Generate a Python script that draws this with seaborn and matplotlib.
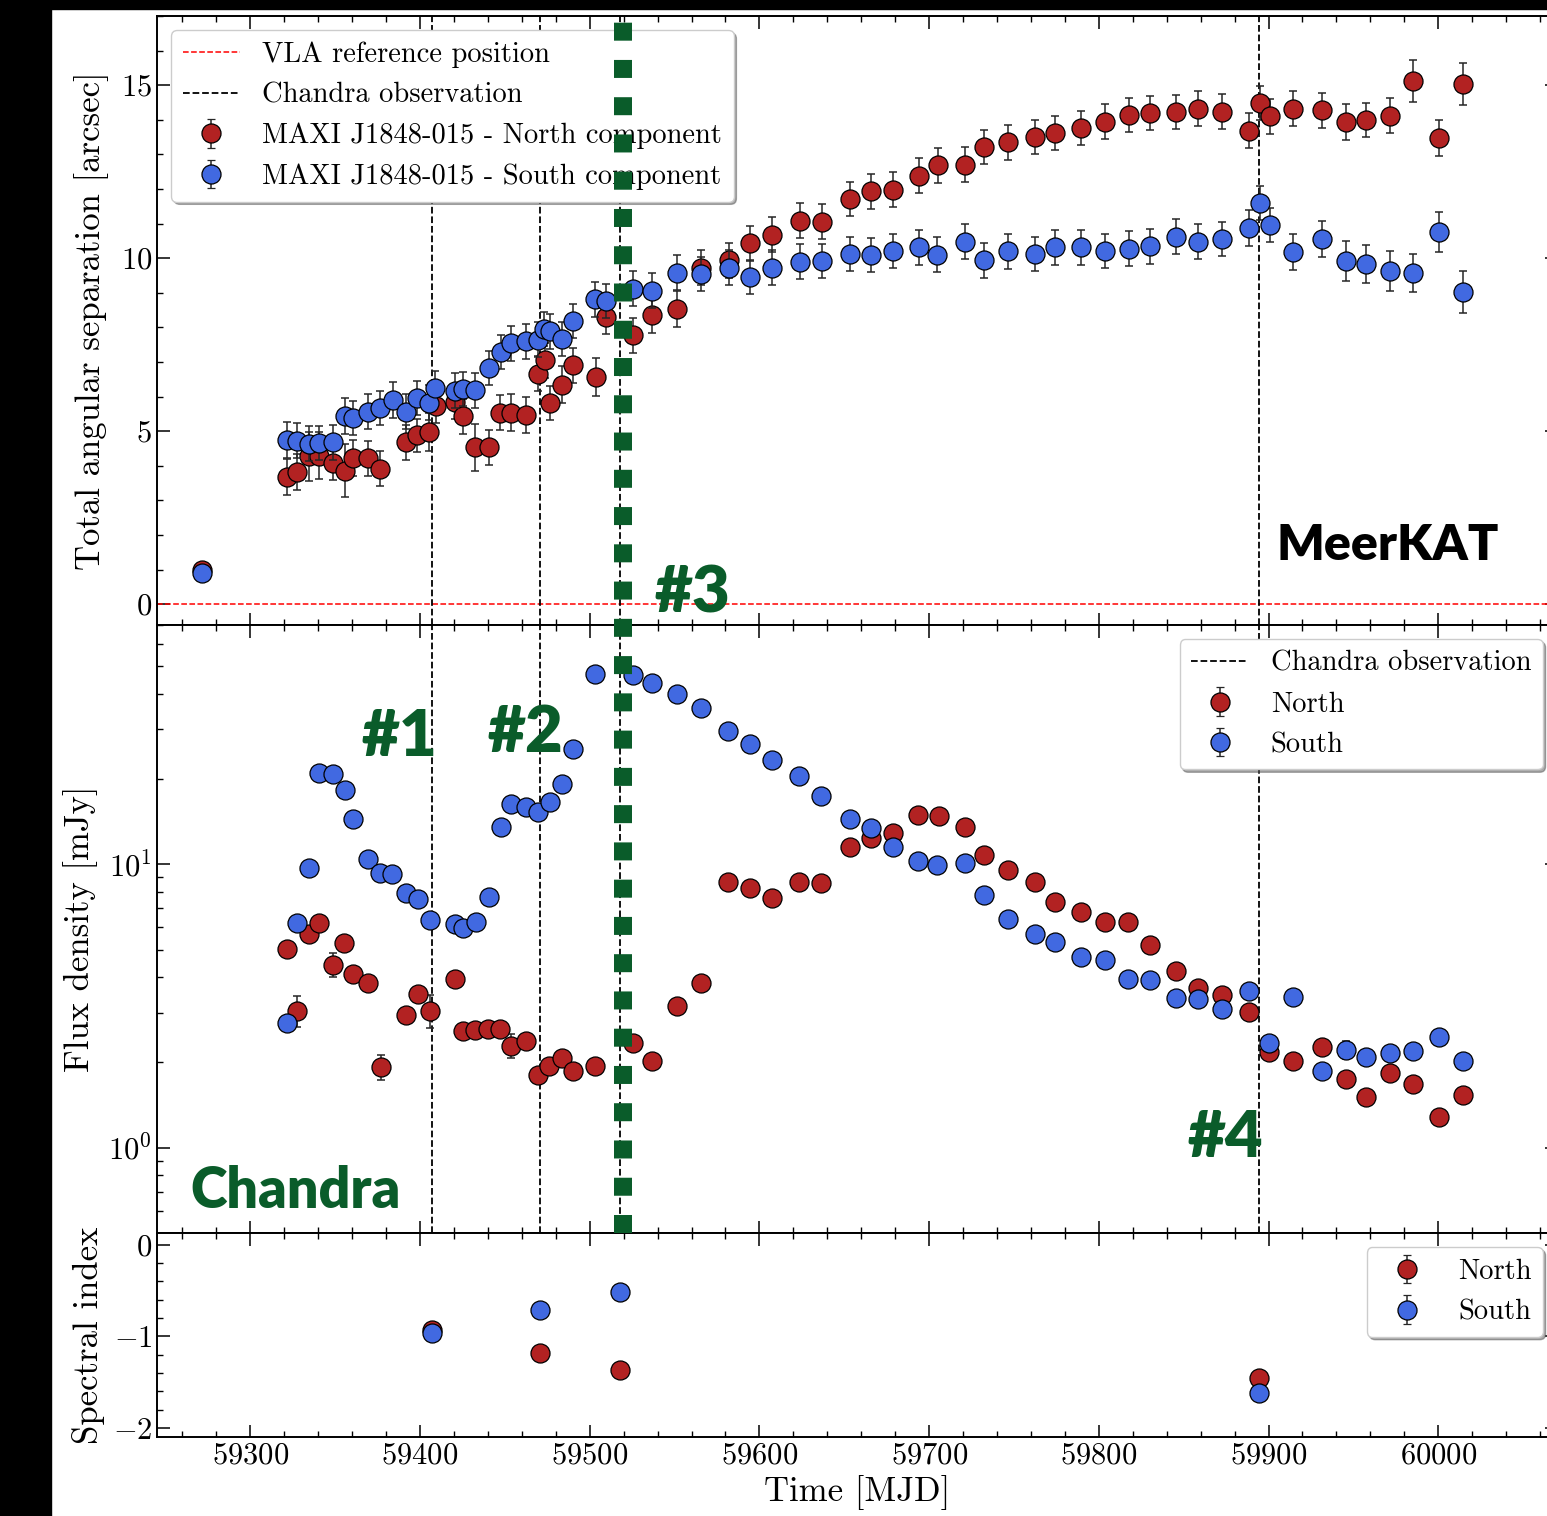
import numpy as np
import matplotlib
matplotlib.use("Agg")
import matplotlib.pyplot as plt
import matplotlib.transforms as mtransforms
from matplotlib.lines import Line2D
from matplotlib.patches import Rectangle
from matplotlib.ticker import MultipleLocator, AutoMinorLocator, NullFormatter, LogLocator
import seaborn as sns

# ---------------- angular separation (MeerKAT) ----------------
sep_mjd_north = [
    59271.5, 59321.6, 59327.7, 59334.3, 59340.6, 59348.5, 59355.8, 59360.7, 59369.5, 59376.7,
    59391.6, 59398.4, 59405.5, 59409.3, 59420.6, 59425.5, 59432.4, 59440.7, 59447.3, 59453.5,
    59462.5, 59469.8, 59473.6, 59476.7, 59483.5, 59490.4, 59503.6, 59509.7, 59525.6, 59536.6,
    59551.7, 59565.7, 59581.8, 59594.6, 59607.7, 59623.7, 59636.9, 59653.5, 59665.7, 59678.5,
    59693.8, 59705.3, 59721.3, 59732.5, 59746.5, 59762.6, 59774.4, 59789.6, 59803.8, 59817.6,
    59830.4, 59845.6, 59858.5, 59872.7, 59888.4, 59894.7, 59900.6, 59914.6, 59931.7, 59945.4,
    59957.6, 59971.5, 59985.3, 60000.4, 60014.6]
sep_north = [
    0.99, 3.69, 3.81, 4.27, 4.29, 4.08, 3.86, 4.22, 4.22, 3.92,
    4.68, 4.88, 4.99, 5.74, 5.84, 5.43, 4.53, 4.53, 5.54, 5.54,
    5.48, 6.66, 7.05, 5.82, 6.35, 6.90, 6.57, 8.30, 7.77, 8.35,
    8.54, 9.73, 9.94, 10.43, 10.68, 11.08, 11.06, 11.71, 11.93, 11.98,
    12.39, 12.68, 12.70, 13.21, 13.35, 13.50, 13.62, 13.76, 13.95, 14.14,
    14.20, 14.22, 14.32, 14.24, 13.69, 14.49, 14.10, 14.32, 14.27, 13.95,
    14.00, 14.12, 15.12, 13.47, 15.04]
sep_north_err = [
    0.08, 0.52, 0.52, 0.72, 0.68, 0.50, 0.77, 0.52, 0.50, 0.50,
    0.50, 0.47, 0.55, 0.50, 0.50, 0.50, 0.68, 0.50, 0.50, 0.53,
    0.52, 0.50, 0.50, 0.50, 0.53, 0.50, 0.56, 0.50, 0.50, 0.52,
    0.52, 0.50, 0.50, 0.50, 0.50, 0.51, 0.50, 0.49, 0.50, 0.50,
    0.50, 0.50, 0.50, 0.50, 0.50, 0.50, 0.50, 0.50, 0.51, 0.50,
    0.50, 0.50, 0.50, 0.50, 0.50, 0.50, 0.50, 0.50, 0.50, 0.52,
    0.50, 0.50, 0.60, 0.53, 0.60]

sep_mjd_south = [
    59271.5, 59321.6, 59327.7, 59334.5, 59340.6, 59348.5, 59355.8, 59360.7, 59369.5, 59376.5,
    59383.9, 59391.6, 59398.4, 59405.5, 59408.9, 59420.6, 59425.5, 59432.4, 59440.7, 59447.5,
    59453.5, 59462.5, 59469.8, 59473.2, 59476.7, 59483.5, 59490.4, 59503.3, 59509.7, 59525.5,
    59536.6, 59551.7, 59565.7, 59581.8, 59594.6, 59607.7, 59623.7, 59636.9, 59653.5, 59665.7,
    59678.5, 59693.8, 59704.7, 59721.3, 59732.5, 59746.5, 59762.6, 59774.4, 59789.6, 59803.8,
    59817.6, 59830.4, 59845.6, 59858.5, 59872.7, 59888.4, 59894.7, 59900.6, 59914.6, 59931.7,
    59945.4, 59957.6, 59971.5, 59985.3, 60000.4, 60014.6]
sep_south = [
    0.91, 4.75, 4.73, 4.64, 4.66, 4.68, 5.43, 5.38, 5.57, 5.67,
    5.91, 5.57, 5.96, 5.83, 6.25, 6.17, 6.22, 6.18, 6.83, 7.29,
    7.54, 7.60, 7.65, 7.96, 7.89, 7.67, 8.18, 8.81, 8.76, 9.12,
    9.06, 9.58, 9.54, 9.73, 9.46, 9.73, 9.90, 9.92, 10.12, 10.09,
    10.21, 10.31, 10.10, 10.48, 9.94, 10.20, 10.12, 10.31, 10.31, 10.21,
    10.28, 10.34, 10.62, 10.48, 10.55, 10.87, 11.59, 10.96, 10.19, 10.55,
    9.92, 9.83, 9.63, 9.57, 10.77, 9.03]
sep_south_err = [
    0.08, 0.52, 0.50, 0.50, 0.50, 0.50, 0.52, 0.50, 0.50, 0.50,
    0.52, 0.50, 0.50, 0.50, 0.50, 0.50, 0.50, 0.50, 0.50, 0.50,
    0.50, 0.50, 0.50, 0.50, 0.50, 0.50, 0.50, 0.50, 0.50, 0.50,
    0.50, 0.50, 0.50, 0.50, 0.50, 0.50, 0.50, 0.50, 0.50, 0.50,
    0.50, 0.50, 0.50, 0.50, 0.50, 0.50, 0.50, 0.50, 0.50, 0.50,
    0.50, 0.50, 0.50, 0.50, 0.50, 0.53, 0.50, 0.50, 0.52, 0.52,
    0.57, 0.55, 0.59, 0.56, 0.58, 0.61]

# ---------------- flux density ----------------
flux_mjd_north = [
    59321.8, 59327.7, 59334.5, 59340.5, 59348.9, 59355.2, 59360.7, 59369.5, 59376.8, 59391.7,
    59398.6, 59405.9, 59420.6, 59425.5, 59432.4, 59440.3, 59447.2, 59453.5, 59462.5, 59469.8,
    59476.2, 59483.5, 59490.4, 59503.2, 59525.4, 59536.6, 59551.7, 59565.5, 59581.4, 59594.6,
    59607.7, 59623.5, 59636.5, 59653.5, 59665.5, 59678.5, 59693.5, 59705.6, 59721.3, 59732.5,
    59746.5, 59762.6, 59774.4, 59789.6, 59803.5, 59817.3, 59830.4, 59845.6, 59858.3, 59872.3,
    59888.4, 59900.2, 59914.3, 59931.3, 59945.4, 59957.6, 59971.4, 59985.3, 60000.4, 60014.6]
flux_north = [
    5.04, 3.05, 5.69, 6.22, 4.43, 5.29, 4.12, 3.82, 1.93, 2.95,
    3.50, 3.05, 3.93, 2.58, 2.61, 2.63, 2.63, 2.29, 2.38, 1.80,
    1.94, 2.07, 1.86, 1.94, 2.34, 2.03, 3.16, 3.82, 8.66, 8.27,
    7.59, 8.66, 8.61, 11.55, 12.4, 12.9, 14.9, 14.8, 13.6, 10.8,
    9.55, 8.69, 7.36, 6.79, 6.25, 6.27, 5.19, 4.20, 3.65, 3.47,
    3.02, 2.17, 2.02, 2.27, 1.75, 1.51, 1.84, 1.68, 1.28, 1.53]
flux_north_err = [
    0.25, 0.39, 0.28, 0.30, 0.44, 0.26, 0.20, 0.19, 0.19, 0.15,
    0.17, 0.40, 0.20, 0.13, 0.13, 0.13, 0.13, 0.22, 0.12, 0.09,
    0.10, 0.10, 0.09, 0.10, 0.12, 0.10, 0.16, 0.19, 0.43, 0.41,
    0.38, 0.43, 0.43, 0.58, 0.62, 0.65, 0.75, 0.74, 0.68, 0.54,
    0.48, 0.43, 0.37, 0.34, 0.31, 0.31, 0.26, 0.21, 0.18, 0.17,
    0.15, 0.11, 0.10, 0.11, 0.09, 0.08, 0.09, 0.08, 0.06, 0.08]

flux_mjd_south = [
    59321.8, 59327.7, 59334.7, 59340.5, 59348.9, 59355.8, 59360.7, 59369.5, 59376.4, 59383.7,
    59391.6, 59398.6, 59405.9, 59420.6, 59425.5, 59432.8, 59440.7, 59447.8, 59453.5, 59462.5,
    59469.8, 59476.7, 59483.5, 59490.4, 59503.2, 59525.4, 59536.6, 59551.7, 59565.5, 59581.4,
    59594.6, 59607.7, 59623.5, 59636.5, 59653.5, 59665.7, 59678.5, 59693.5, 59704.6, 59721.3,
    59732.5, 59746.5, 59762.6, 59774.4, 59789.6, 59803.5, 59817.3, 59830.4, 59845.6, 59858.3,
    59872.3, 59888.4, 59900.2, 59914.3, 59931.3, 59945.4, 59957.6, 59971.4, 59985.3, 60000.4,
    60014.6]
flux_south = [
    2.76, 6.22, 9.68, 20.97, 20.8, 18.3, 14.5, 10.47, 9.29, 9.22,
    7.90, 7.52, 6.34, 6.14, 5.98, 6.27, 7.69, 13.6, 16.4, 16.0,
    15.3, 16.6, 19.3, 25.5, 46.9, 46.6, 43.6, 40.1, 35.6, 29.6,
    26.7, 23.4, 20.5, 17.5, 14.5, 13.4, 11.5, 10.3, 9.92, 10.1,
    7.83, 6.43, 5.66, 5.32, 4.72, 4.58, 3.95, 3.90, 3.38, 3.36,
    3.10, 3.56, 2.34, 3.40, 1.86, 2.22, 2.09, 2.16, 2.19, 2.45,
    2.02]
flux_south_err = [
    0.14, 0.31, 0.48, 1.0, 1.0, 0.9, 0.7, 0.5, 0.46, 0.46,
    0.39, 0.37, 0.32, 0.31, 0.30, 0.31, 0.38, 0.68, 0.82, 0.80,
    0.76, 0.83, 0.96, 1.27, 2.3, 2.3, 2.2, 2.0, 1.8, 1.5,
    1.3, 1.2, 1.0, 0.87, 0.72, 0.67, 0.57, 0.51, 0.49, 0.50,
    0.39, 0.32, 0.28, 0.26, 0.23, 0.23, 0.20, 0.19, 0.17, 0.17,
    0.15, 0.18, 0.12, 0.17, 0.09, 0.16, 0.10, 0.11, 0.11, 0.12,
    0.10]

# ---------------- spectral index (Chandra epochs) ----------------
chandra_mjd = [59406.9, 59470.9, 59517.6, 59894.1]
alpha_north = [-0.93, -1.18, -1.37, -1.45]
alpha_north_err = [0.03, 0.03, 0.03, 0.03]
alpha_south = [-0.96, -0.71, -0.51, -1.62]
alpha_south_err = [0.03, 0.03, 0.03, 0.03]

highlight_mjd = 59519.5
epoch_labels = ["#1", "#2", "#3", "#4"]

RED = "#b22222"
BLUE = "#4169e1"
GREEN = "#0a5c2a"

sns.set_theme(style="ticks")
plt.rcParams.update({
    "font.family": ["cmr10", "DejaVu Sans"],
    "mathtext.fontset": "cm",
    "axes.formatter.use_mathtext": True,
    "axes.unicode_minus": True,
    "axes.linewidth": 1.4,
    "axes.edgecolor": "black",
    "xtick.color": "black",
    "ytick.color": "black",
    "axes.labelcolor": "black",
    "text.color": "black",
    "axes.facecolor": "white",
    "figure.facecolor": "white",
})

W, H = 1547, 1516
fig = plt.figure(figsize=(W / 100, H / 100), dpi=100)
gs = fig.add_gridspec(3, 1, height_ratios=[609, 608, 204], hspace=0,
                      left=157 / W, right=1557 / W, top=1 - 16 / H, bottom=1 - 1437 / H)
ax1 = fig.add_subplot(gs[0])
ax2 = fig.add_subplot(gs[1], sharex=ax1)
ax3 = fig.add_subplot(gs[2], sharex=ax1)

MS = 13.7
ERR_KW = dict(fmt="none", ecolor="0.15", elinewidth=1.1, capsize=2.8, capthick=1.1)
LEG_KW = dict(fontsize=20.5, framealpha=1, fancybox=True,
              shadow={"color": "0.35", "alpha": 0.5}, labelspacing=0.5)


def draw_series(ax, x, y, err, color, z):
    ax.errorbar(x, y, yerr=err, zorder=z, **ERR_KW)
    sns.scatterplot(x=x, y=y, ax=ax, color=color, s=MS ** 2, edgecolor="black",
                    linewidth=0.9, zorder=z + 0.5, legend=False)


def proxy(ax, color, label):
    return ax.errorbar([np.nan], [np.nan], yerr=[1.0], fmt="o", ms=MS, mfc=color,
                       mec="black", mew=0.9, label=label,
                       **{k: v for k, v in ERR_KW.items() if k != "fmt"})


# --- top panel: angular separation ---
ax1.axhline(0, color="red", ls="--", lw=1.1, zorder=1)
for m in chandra_mjd:
    ax1.axvline(m, color="black", ls="--", lw=1.3, zorder=1)
draw_series(ax1, sep_mjd_north, sep_north, sep_north_err, RED, 3)
draw_series(ax1, sep_mjd_south, sep_south, sep_south_err, BLUE, 5)
h_vla = Line2D([], [], color="red", ls="--", lw=1.1)
h_ch = Line2D([], [], color="black", ls="--", lw=1.3)
h_n = proxy(ax1, RED, "MAXI J1848-015 - North component")
h_s = proxy(ax1, BLUE, "MAXI J1848-015 - South component")
ax1.legend([h_vla, h_ch, h_n, h_s],
           ["VLA reference position", "Chandra observation",
            "MAXI J1848-015 - North component", "MAXI J1848-015 - South component"],
           loc="upper left", **LEG_KW)
ax1.set_ylim(-0.6, 17.0)
ax1.yaxis.set_major_locator(MultipleLocator(5))
ax1.yaxis.set_minor_locator(AutoMinorLocator())
ax1.set_ylabel("Total angular separation [arcsec]", fontsize=25, labelpad=8.5)
ax1.text(0.80, 0.107, "MeerKAT", transform=ax1.transAxes, fontsize=36,
         family="Lato", weight="heavy", color="black", va="baseline", ha="left")
ax1.text(0.3557, 0.021, epoch_labels[2], transform=ax1.transAxes, fontsize=47,
         family="Lato", weight="heavy", color=GREEN, va="baseline", ha="left")

# --- middle panel: flux density ---
for m in chandra_mjd:
    ax2.axvline(m, color="black", ls="--", lw=1.3, zorder=1)
draw_series(ax2, flux_mjd_north, flux_north, flux_north_err, RED, 3)
draw_series(ax2, flux_mjd_south, flux_south, flux_south_err, BLUE, 5)
h_n2 = proxy(ax2, RED, "North")
h_s2 = proxy(ax2, BLUE, "South")
ax2.legend([h_ch, h_n2, h_s2], ["Chandra observation", "North", "South"],
           loc="upper right", **LEG_KW)
ax2.set_yscale("log")
ax2.set_ylim(0.5, 70)
ax2.yaxis.set_major_locator(LogLocator(base=10))
ax2.yaxis.set_minor_locator(LogLocator(base=10, subs=np.arange(2, 10)))
ax2.yaxis.set_minor_formatter(NullFormatter())
ax2.set_ylabel("Flux density [mJy]", fontsize=25, labelpad=7.5)
for lbl, xa, ya in [(epoch_labels[0], 0.1464, 0.7845), (epoch_labels[1], 0.2364, 0.791),
                    (epoch_labels[3], 0.7364, 0.125)]:
    ax2.text(xa, ya, lbl, transform=ax2.transAxes, fontsize=47, family="Lato",
             weight="heavy", color=GREEN, va="baseline", ha="left")
ax2.text(0.0236, 0.041, "Chandra", transform=ax2.transAxes, fontsize=40,
         family="Lato", weight="heavy", color=GREEN, va="baseline", ha="left")

# --- bottom panel: spectral index ---
draw_series(ax3, chandra_mjd, alpha_north, alpha_north_err, RED, 3)
draw_series(ax3, chandra_mjd, alpha_south, alpha_south_err, BLUE, 5)
h_n3 = proxy(ax3, RED, "North")
h_s3 = proxy(ax3, BLUE, "South")
ax3.legend([h_n3, h_s3], ["North", "South"], loc="upper right", **LEG_KW)
ax3.set_ylim(-2.1, 0.13)
ax3.yaxis.set_major_locator(MultipleLocator(1))
ax3.yaxis.set_minor_locator(AutoMinorLocator())
ax3.set_ylabel("Spectral index", fontsize=25, labelpad=5.5)
ax3.set_xlabel("Time [MJD]", fontsize=25)

ax1.set_xlim(59245, 60070)
ax1.xaxis.set_major_locator(MultipleLocator(100))
ax1.xaxis.set_minor_locator(AutoMinorLocator())

for ax in (ax1, ax2, ax3):
    ax.tick_params(which="both", direction="in", top=True, right=True, labelsize=22)
    ax.tick_params(which="major", length=9, width=1.1)
    ax.tick_params(which="minor", length=4.5, width=1.0)
    for sp in ax.spines.values():
        sp.set_color("black")
ax1.tick_params(labelbottom=False)
ax2.tick_params(labelbottom=False)

# thick square-dashed marker of Chandra epoch #3, spanning the top two panels
y_low = ax2.get_position().y0
trans = mtransforms.blended_transform_factory(ax1.transData, fig.transFigure)
fig.add_artist(Line2D([highlight_mjd, highlight_mjd], [y_low, 1.0], transform=trans,
                      color=GREEN, lw=12.96, linestyle=(0, (1.0, 1.07)),
                      dash_capstyle="butt", zorder=20))

# dark frame strips along the left and top edges
fig.add_artist(Rectangle((0, 0), 50.5 / W, 1, transform=fig.transFigure,
                         color="black", zorder=25))
fig.add_artist(Rectangle((0, 1 - 9 / H), 1, 9 / H, transform=fig.transFigure,
                         color="black", zorder=25))

fig.savefig("out.png", dpi=100)
